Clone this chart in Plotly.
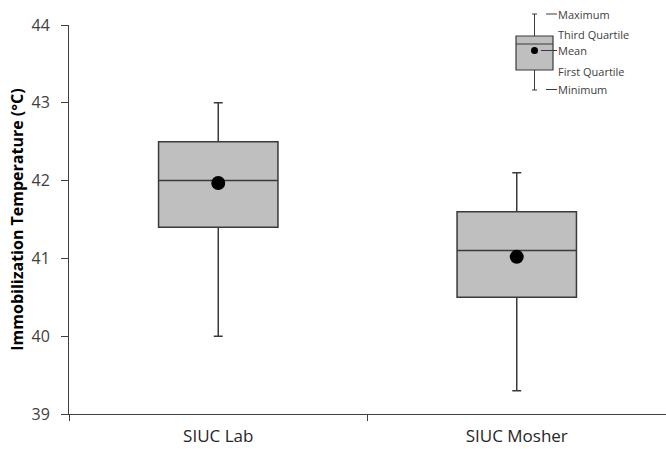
import plotly.graph_objects as go

categories = ["SIUC Lab", "SIUC Mosher"]
minimum = [40.0, 39.3]
first_quartile = [41.4, 40.5]
median = [42.0, 41.1]
third_quartile = [42.5, 41.6]
maximum = [43.0, 42.1]
mean = [41.97, 41.02]

y_ticks = [39, 40, 41, 42, 43, 44]

# plot area on screen: x 69..666, y 25..414 (body margin removed)
SX0, SX1, SY0, SY1 = 69, 666, 25, 414
W, H = 666, 449
L, T = SX0, SY0
R = W - SX1
B = H - SY1

def px(x):
    return (x - SX0) / (SX1 - SX0)

def py(y):
    return (SY1 - y) / (SY1 - SY0)

fig = go.Figure()
fig.add_trace(go.Box(
    x=categories, q1=first_quartile, median=median, q3=third_quartile,
    lowerfence=minimum, upperfence=maximum,
    width=0.4, whiskerwidth=0.075,
    fillcolor="#bfbfbf", line=dict(color="#3a3a3a", width=1.5),
    boxpoints=False, showlegend=False,
))
fig.add_trace(go.Scatter(
    x=categories, y=mean, mode="markers",
    marker=dict(color="black", size=14), showlegend=False,
))

# legend key (decorative, in paper coordinates)
shapes = []
lc = "#3a3a3a"
shapes.append(dict(type="line", xref="paper", yref="paper", x0=px(534.5), x1=px(534.5), y0=py(14), y1=py(90), line=dict(color=lc, width=1)))
for yy in (14, 90):
    shapes.append(dict(type="line", xref="paper", yref="paper", x0=px(532), x1=px(537), y0=py(yy), y1=py(yy), line=dict(color=lc, width=1)))
shapes.append(dict(type="rect", xref="paper", yref="paper", x0=px(516), x1=px(553), y0=py(70), y1=py(36), fillcolor="#bfbfbf", line=dict(color=lc, width=1.2)))
shapes.append(dict(type="line", xref="paper", yref="paper", x0=px(516), x1=px(553), y0=py(44), y1=py(44), line=dict(color=lc, width=1.2)))
shapes.append(dict(type="circle", xref="paper", yref="paper", x0=px(531), x1=px(538), y0=py(54), y1=py(47), fillcolor="black", line=dict(color="black", width=0)))
for (x0, x1, yy) in [(546, 557, 14), (541, 557, 50.5), (546, 557, 89.5)]:
    shapes.append(dict(type="line", xref="paper", yref="paper", x0=px(x0), x1=px(x1), y0=py(yy), y1=py(yy), line=dict(color=lc, width=1)))

annotations = []
for text, yy in [("Maximum", 14), ("Third Quartile", 34), ("Mean", 50.5), ("First Quartile", 72), ("Minimum", 89.5)]:
    annotations.append(dict(text=text, xref="paper", yref="paper", x=px(556), y=py(yy),
                            xanchor="left", yanchor="middle", showarrow=False,
                            font=dict(size=11, color="#404040", family="Open Sans")))

fig.update_layout(
    width=W, height=H,
    margin=dict(l=L, r=R, t=T, b=B),
    paper_bgcolor="white", plot_bgcolor="white",
    font=dict(family="Open Sans", color="#404040"),
    shapes=shapes, annotations=annotations,
    xaxis=dict(type="category", range=[-0.5, 1.5], tickson="boundaries",
               ticks="outside", ticklen=6, tickcolor="#404040",
               showline=True, linecolor="#404040", linewidth=1,
               showgrid=False, ticklabelstandoff=7,
               tickfont=dict(size=17, color="#262626")),
    yaxis=dict(range=[39, 44], tickvals=y_ticks, ticks="outside", ticklen=7,
               tickcolor="#404040", showline=True, linecolor="#404040", linewidth=1,
               showgrid=False, zeroline=False, ticklabelstandoff=8,
               tickfont=dict(size=16, color="#404040"),
               title=dict(text="<b>Immobilization Temperature (°C)</b>", standoff=3,
                          font=dict(size=16, color="black"))),
)

fig.write_html("out.html", config={"displayModeBar": False},
               post_script="document.body.style.margin='0';document.body.style.overflow='hidden';")
